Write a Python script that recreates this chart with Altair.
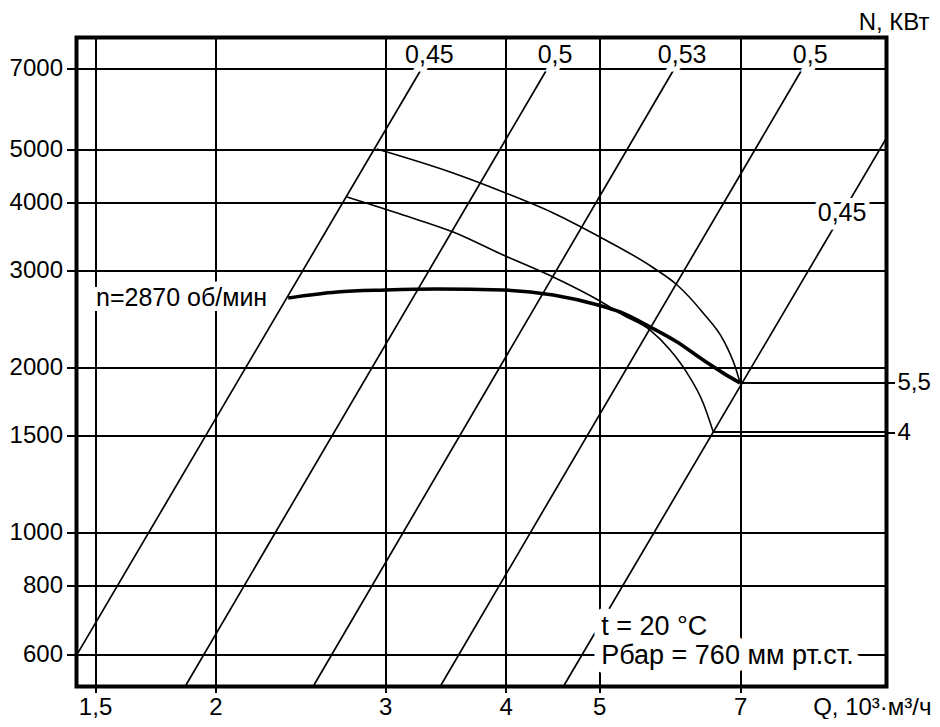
import altair as alt
import pandas as pd

FONT = "Liberation Sans"

# axis domains (Q in 10^3 m3/h, N - left scale values)
Q_MIN, Q_MAX = 1.435, 9.93
N_MIN, N_MAX = 523.5, 7990

q_ticks = [1.5, 2, 3, 4, 5, 7]
n_ticks = [600, 800, 1000, 1500, 2000, 3000, 4000, 5000, 7000]

# efficiency lines: start / end points
eff_labels = ["0,45", "0,5", "0,53", "0,5", "0,45"]
eff_q_start = [1.44, 1.86, 2.525, 3.42, 4.59]
eff_n_start = [603, 523.5, 523.5, 523.5, 523.5]
eff_q_end = [3.27, 4.415, 5.98, 8.12, 9.93]
eff_n_end = [7000, 7000, 7000, 7000, 5240]
eff_right_label_q = 8.93
eff_right_label_n = 3824

# characteristic curves
curve_top_q = [2.94, 3.503, 3.975, 4.48, 4.987, 5.674, 6.023, 6.409, 6.725, 6.92, 7.0]
curve_top_n = [5003, 4542, 4176, 3824, 3471, 3048, 2826, 2512, 2243, 2002, 1873]
curve_mid_q = [2.738, 3.13, 3.528, 3.975, 4.48, 4.987, 5.293, 5.647, 5.923, 6.169, 6.409, 6.566]
curve_mid_n = [4089, 3792, 3530, 3205, 2922, 2653, 2491, 2339, 2151, 1952, 1722, 1524]
curve_main_q = [2.379, 2.673, 2.999, 3.395, 3.975, 4.48, 4.987, 5.256, 5.647, 6.023, 6.409, 6.725, 7.0]
curve_main_n = [2676, 2744, 2767, 2779, 2767, 2710, 2598, 2523, 2369, 2224, 2062, 1952, 1873]
curve_main_label = "n=2870 об/мин"

# motor power connectors (right axis)
power_labels = ["5,5", "4"]
power_q = [7.0, 6.566]
power_n = [1873, 1524]

info_lines = ["t = 20 °C", "Рбар = 760 мм рт.ст."]
info_q = 5.0
info_n = 650

# ---------------------------------------------------------------------------
x_scale = alt.Scale(type="log", domain=[Q_MIN, Q_MAX], nice=False, zero=False)
y_scale = alt.Scale(type="log", domain=[N_MIN, N_MAX], nice=False, zero=False)

x_axis = alt.Axis(
    values=q_ticks,
    labelExpr="replace(format(datum.value, '~g'), '.', ',')",
    grid=True, tickSize=6, labelPadding=2.5, labelFontSize=24,
    title="Q, 10³·м³/ч", titleX=854.5, titleY=27.5, titleAlign="right",
    titleBaseline="alphabetic", titleFontSize=24, titleFontWeight="normal",
)
y_axis = alt.Axis(
    values=n_ticks, format="d", grid=True, tickSize=10, labelPadding=4,
    labelFontSize=24, title="",
)

label_expr = "'" + power_labels[-1] + "'"
for lab, val in zip(power_labels[:-1], power_n[:-1]):
    label_expr = f"datum.value == {val} ? '{lab}' : " + label_expr
right_axis = alt.Axis(
    orient="right", values=power_n, labelExpr=label_expr, grid=False,
    tickSize=8, labelPadding=2.5, labelFontSize=24,
    title="N, КВт", titleAngle=0, titleX=42.5, titleY=-8.5, titleAlign="right",
    titleBaseline="alphabetic", titleFontSize=24, titleFontWeight="normal",
)


def xenc():
    return alt.X("q:Q", scale=x_scale, axis=x_axis)


def yenc():
    return alt.Y("n:Q", scale=y_scale, axis=y_axis)


eff_rows = []
for i in range(len(eff_labels)):
    eff_rows.append({"id": i, "q": eff_q_start[i], "n": eff_n_start[i]})
    eff_rows.append({"id": i, "q": eff_q_end[i], "n": eff_n_end[i]})
eff_df = pd.DataFrame(eff_rows)

eff_lines = alt.Chart(eff_df).mark_line(color="black", strokeWidth=1.7, clip=True).encode(
    x=xenc(), y=yenc(), detail="id:N"
)

thin_df = pd.DataFrame(
    [{"c": "top", "q": q, "n": n} for q, n in zip(curve_top_q, curve_top_n)]
    + [{"c": "mid", "q": q, "n": n} for q, n in zip(curve_mid_q, curve_mid_n)]
)
thin_curves = alt.Chart(thin_df).mark_line(
    color="black", strokeWidth=1.6, interpolate="monotone", clip=True
).encode(x=xenc(), y=yenc(), detail="c:N")

main_df = pd.DataFrame({"q": curve_main_q, "n": curve_main_n})
main_curve = alt.Chart(main_df).mark_line(
    color="black", strokeWidth=3.6, interpolate="monotone", clip=True
).encode(x=xenc(), y=yenc())

# labels
top_lab_df = pd.DataFrame({"label": eff_labels[:4], "q": eff_q_end[:4], "n": eff_n_end[:4]})
right_lab_df = pd.DataFrame({"label": [eff_labels[4]], "q": [eff_right_label_q], "n": [eff_right_label_n]})
main_lab_df = pd.DataFrame({"label": [curve_main_label], "q": [curve_main_q[0]], "n": [curve_main_n[0]]})
info_df = pd.DataFrame({"q": [info_q], "n": [info_n]})


def text_pair(df, halo_w=10, **kw):
    halo = alt.Chart(df).mark_text(
        font=FONT, color="white", stroke="white", strokeWidth=halo_w, **kw
    ).encode(x=xenc(), y=yenc(), text="label:N")
    txt = alt.Chart(df).mark_text(font=FONT, color="black", **kw).encode(
        x=xenc(), y=yenc(), text="label:N"
    )
    return [halo, txt]


top_labels = text_pair(top_lab_df, fontSize=25, align="center", baseline="alphabetic", dx=8, dy=-6)
right_label = text_pair(right_lab_df, fontSize=25, align="center", baseline="middle", dx=0)
main_label = text_pair(main_lab_df, fontSize=25, align="right", baseline="middle", dx=-21)

info_halo = alt.Chart(info_df).mark_text(
    font=FONT, fontSize=27, align="left", baseline="alphabetic", dx=2,
    lineHeight=29, text=info_lines, color="white", stroke="white", strokeWidth=18,
    strokeJoin="round",
).encode(x=xenc(), y=yenc())
info_txt = alt.Chart(info_df).mark_text(
    font=FONT, fontSize=27, align="left", baseline="alphabetic", dx=2,
    lineHeight=29, text=info_lines, color="black",
).encode(x=xenc(), y=yenc())

# right axis with connectors
power_df = pd.DataFrame({"label": power_labels, "q": power_q, "n": power_n})
connectors = alt.Chart(power_df).mark_rule(color="black", strokeWidth=2).encode(
    x=xenc(),
    x2=alt.datum(Q_MAX),
    y=alt.Y("n:Q", scale=y_scale, axis=right_axis),
)

main_layer = alt.layer(
    eff_lines, thin_curves, main_curve,
    *top_labels, *right_label, *main_label, info_halo, info_txt,
)

chart = alt.layer(main_layer, connectors).resolve_scale(y="independent").properties(
    width=810,
    height=649,
    padding={"left": 68.5, "top": 29.5, "right": 45.5, "bottom": 32.5},
    autosize=alt.AutoSizeParams(type="none"),
    background="white",
).configure_view(
    stroke="black", strokeWidth=4, fill="white"
).configure_axis(
    domain=False,
    labelFont=FONT, titleFont=FONT,
    labelColor="black", titleColor="black",
    tickColor="black", tickWidth=2,
    gridColor="black", gridOpacity=1, gridWidth=2,
)

chart.save("out.html", embed_options={"renderer": "svg", "actions": False})
